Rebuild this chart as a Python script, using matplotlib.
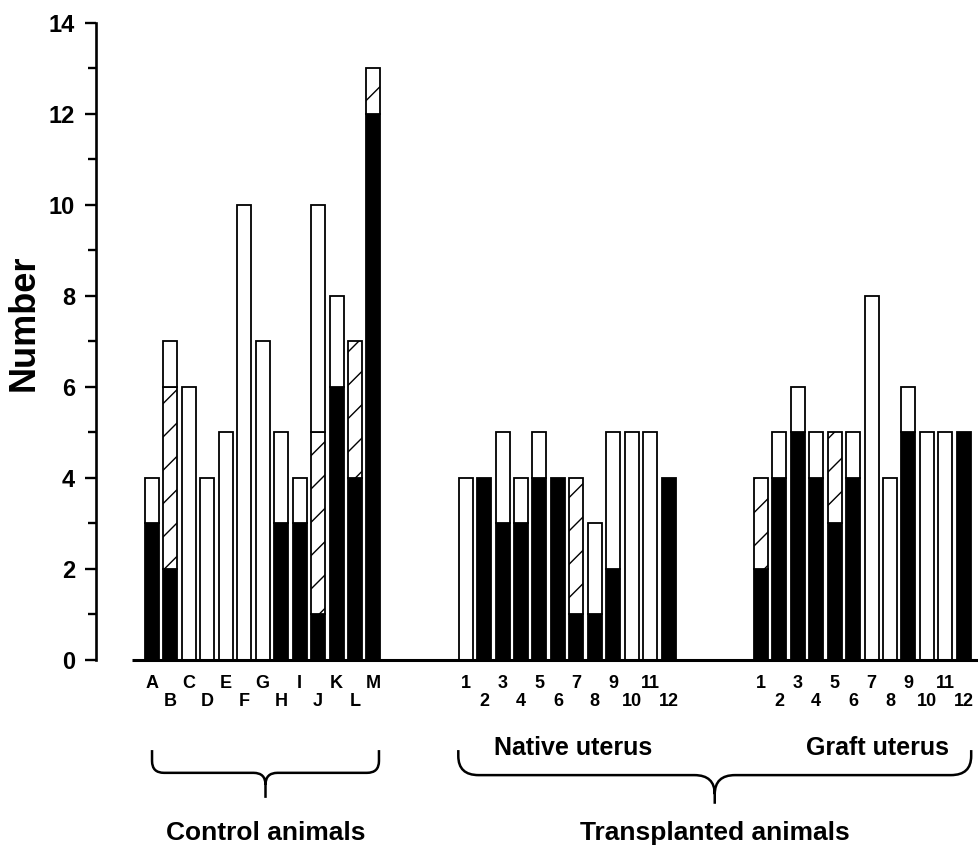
import numpy as np
import matplotlib
matplotlib.use("Agg")
import matplotlib.pyplot as plt
from matplotlib.path import Path
from matplotlib.patches import PathPatch

plt.rcParams['font.family'] = ['Liberation Sans', 'DejaVu Sans']
plt.rcParams['font.weight'] = 'bold'
plt.rcParams['hatch.linewidth'] = 1.0

# ---- data -------------------------------------------------------------
control_labels = list("ABCDEFGHIJKLM")
control_black = [3, 2, 0, 0, 0, 0, 0, 3, 3, 1, 6, 4, 12]
control_hatched = [0, 4, 0, 0, 0, 0, 0, 0, 0, 4, 0, 3, 1]
control_white = [1, 1, 6, 4, 5, 10, 7, 2, 1, 5, 2, 0, 0]

native_labels = [str(i) for i in range(1, 13)]
native_black = [0, 4, 3, 3, 4, 4, 1, 1, 2, 0, 0, 4]
native_hatched = [0, 0, 0, 0, 0, 0, 3, 0, 0, 0, 0, 0]
native_white = [4, 0, 2, 1, 1, 0, 0, 2, 3, 5, 5, 0]

graft_labels = [str(i) for i in range(1, 13)]
graft_black = [2, 4, 5, 4, 3, 4, 0, 0, 5, 0, 0, 5]
graft_hatched = [2, 0, 0, 0, 2, 0, 0, 0, 0, 0, 0, 0]
graft_white = [0, 1, 1, 1, 0, 1, 8, 4, 1, 5, 5, 0]

y_ticks = [0, 2, 4, 6, 8, 10, 12, 14]

# ---- layout -----------------------------------------------------------
group_starts = [0, 17, 33]
bar_width = 0.76

fig = plt.figure(figsize=(9.79, 8.48), dpi=100)
ax = fig.add_axes([0.0981, 0.2217, 0.9009, 0.7512])

groups = [
    (control_labels, control_black, control_hatched, control_white),
    (native_labels, native_black, native_hatched, native_white),
    (graft_labels, graft_black, graft_hatched, graft_white),
]

upper_pos, upper_lab, lower_pos, lower_lab = [], [], [], []
for start, (labels, blk, hat, wht) in zip(group_starts, groups):
    pos = start + np.arange(len(labels))
    blk = np.array(blk, float)
    hat = np.array(hat, float)
    wht = np.array(wht, float)
    segs = [
        (blk, np.zeros_like(blk), 'black', None),
        (hat, blk, 'white', '/'),
        (wht, blk + hat, 'white', None),
    ]
    for h, b, fc, hatch in segs:
        m = h > 0
        ax.bar(pos[m], h[m], bottom=b[m], width=bar_width, color=fc,
               edgecolor='black', linewidth=1.3, hatch=hatch, zorder=3)
    # labels alternate between an upper and a lower row within each group
    for i, (p, l) in enumerate(zip(pos, labels)):
        if i % 2 == 0:
            upper_pos.append(p)
            upper_lab.append(l)
        else:
            lower_pos.append(p)
            lower_lab.append(l)

xmin, xmax = -3.035, 44.77
ax.set_xlim(xmin, xmax)
ax.set_ylim(0, 14)

ax.set_xticks(upper_pos, upper_lab)
ax.set_xticks(lower_pos, lower_lab, minor=True)
ax.tick_params(axis='x', which='major', length=0, pad=11, labelsize=13)
ax.tick_params(axis='x', which='minor', length=0, pad=24, labelsize=13)

ax.set_yticks(y_ticks)
ax.set_yticks(np.arange(1, 14, 2), minor=True)
ax.tick_params(axis='y', which='major', length=8, width=1.7, pad=7, labelsize=17)
ax.tick_params(axis='y', which='minor', length=6, width=1.7)
for lab in ax.get_yticklabels() + ax.get_xticklabels() + ax.get_xticklabels(minor=True):
    lab.set_fontweight('bold')

for s in ['top', 'right', 'bottom']:
    ax.spines[s].set_visible(False)
ax.spines['left'].set_linewidth(1.9)

# baseline
ax.plot([-1.08, xmax], [0, 0], color='black', lw=2.2, clip_on=False, zorder=4,
        solid_capstyle='butt')

ax.set_ylabel('Number', fontsize=26, fontweight='bold')
ax.yaxis.set_label_coords(-0.062, 0.53)


def brace(x_left, x_right, x_tip, y_top, y_mid, y_tip, rx, ry):
    verts = [
        (x_left, y_top), (x_left, y_mid + ry),
        (x_left, y_mid), (x_left + rx, y_mid),
        (x_tip - rx, y_mid),
        (x_tip, y_mid), (x_tip, y_mid - ry),
        (x_tip, y_tip),
        (x_tip, y_mid - ry),
        (x_tip, y_mid), (x_tip + rx, y_mid),
        (x_right - rx, y_mid),
        (x_right, y_mid), (x_right, y_mid + ry),
        (x_right, y_top),
    ]
    codes = [Path.MOVETO, Path.LINETO,
             Path.CURVE3, Path.CURVE3,
             Path.LINETO,
             Path.CURVE3, Path.CURVE3,
             Path.LINETO,
             Path.MOVETO,
             Path.CURVE3, Path.CURVE3,
             Path.LINETO,
             Path.CURVE3, Path.CURVE3,
             Path.LINETO]
    ax.add_patch(PathPatch(Path(verts, codes), fill=False, edgecolor='black',
                           lw=1.8, clip_on=False))


brace(0.0, 12.3, 6.15, -1.98, -2.48, -3.03, 0.65, 0.26)
brace(16.6, 44.4, 30.5, -1.98, -2.53, -3.16, 1.1, 0.42)

ax.text(22.8, -1.93, 'Native uterus', ha='center', va='center',
        fontsize=18, fontweight='bold')
ax.text(39.3, -1.93, 'Graft uterus', ha='center', va='center',
        fontsize=18, fontweight='bold')
ax.text(6.15, -3.8, 'Control animals', ha='center', va='center',
        fontsize=19, fontweight='bold', clip_on=False)
ax.text(30.5, -3.8, 'Transplanted animals', ha='center', va='center',
        fontsize=19, fontweight='bold', clip_on=False)

fig.savefig('out.png', dpi=100, facecolor='white')
